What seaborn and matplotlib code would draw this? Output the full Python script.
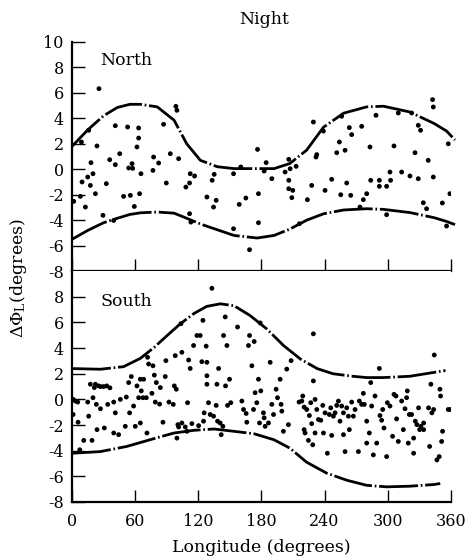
import numpy as np
import pandas as pd
import matplotlib.pyplot as plt
import seaborn as sns

# ---- data ----
# North hemisphere scatter (longitude, delta phi_L)
north_lon = [1.6, 7.9, 8.9, 9.5, 12.7, 14.9, 17.4, 18.0, 15.8, 19.9, 22.2, 23.7, 25.6, 29.4,
             32.6, 35.8, 39.6, 41.1, 41.1, 45.3, 49.0, 52.8, 53.8, 55.4, 57.0, 57.6, 59.2,
             61.7, 63.3, 63.3, 64.2, 65.5, 76.9, 77.5, 82.3, 87.0, 89.6, 93.4, 98.7, 99.7,
             101.3, 108.2, 111.7, 111.7, 112.3, 113.0, 116.5, 128.2, 133.2, 134.5, 135.1,
             137.0, 153.5, 153.5, 158.9, 160.4, 165.2, 168.7, 176.3, 177.2, 177.2, 182.6,
             184.5, 189.9, 202.5, 206.0, 206.0, 206.0, 207.3, 209.8, 208.9, 213.0, 216.1,
             223.7, 227.8, 229.4, 231.9, 232.6, 238.9, 240.5, 246.8, 251.6, 254.1, 256.3,
             259.5, 261.1, 263.6, 265.8, 255.4, 264.9, 275.3, 276.9, 280.1, 273.7, 283.2,
             283.9, 288.9, 292.1, 292.1, 299.0, 299.0, 302.2, 302.8, 306.0, 310.1, 313.3,
             321.2, 322.8, 326.0, 329.1, 329.1, 331.3, 333.9, 337.0, 338.6, 342.7, 343.4,
             343.4, 352.0, 356.0, 357.6, 359.2]
north_dphi = [-2.52, -2.13, 2.14, -1.0, -2.97, -0.61, -1.27, 0.52, 3.06, -0.35, -1.92, 1.83,
              6.33, -3.62, -1.13, 0.75, -4.02, 3.42, 0.36, 1.22, -2.13, 3.32, 0.1, -2.05, 0.44,
              0.07, -2.92, 1.75, 2.45, 3.24, -1.92, -0.35, -0.09, 0.96, 0.49, 3.53, -1.08,
              1.22, 4.94, 4.63, 0.83, -1.4, -1.08, -3.49, -0.35, -4.15, -0.53, -2.18, -0.87,
              -2.97, -0.4, -2.44, -4.67, -0.35, -2.76, 0.18, -2.26, -6.32, 1.56, -1.92, -4.2,
              -0.14, 0.52, -0.74, -0.22, 0.78, -0.87, -1.53, 0.04, -1.66, -2.23, 0.23, -4.28,
              -2.39, -1.27, 3.71, 0.96, 1.15, 3.0, -1.66, -0.79, 1.3, 2.14, 4.16, 1.49, -1.08,
              3.27, 2.72, -2.0, -2.05, 3.37, -2.39, -1.92, -2.97, 1.75, -0.87, 4.24, -0.87,
              -1.34, -1.34, -3.57, -0.22, -0.87, 1.83, 4.42, -0.22, -0.53, 4.42, 1.3, -0.74,
              3.45, 3.06, -2.63, -3.1, 0.7, 5.47, 4.89, -0.61, -2.65, -4.46, 2.0, -1.92]

# South hemisphere scatter
south_lon = [1.0, 3.2, 5.4, 1.0, 5.7, 7.3, 11.1, 14.9, 15.8, 17.4, 19.0, 19.9, 21.2, 23.1,
             23.7, 22.2, 25.3, 27.0, 30.0, 33.0, 36.0, 27.0, 30.7, 33.9, 39.6, 39.6, 41.1,
             44.3, 45.9, 50.6, 51.6, 53.8, 54.7, 56.3, 58.5, 60.1, 61.7, 63.3, 64.9, 64.9,
             65.8, 67.4, 68.0, 70.6, 71.2, 71.8, 72.8, 75.9, 76.9, 78.2, 79.1, 80.1, 83.2,
             83.9, 86.4, 88.6, 89.2, 92.1, 96.2, 97.2, 98.1, 99.1, 99.7, 100.6, 101.3, 103.5,
             104.4, 104.4, 107.6, 109.2, 109.8, 110.8, 112.3, 113.9, 115.5, 118.7, 120.3,
             121.8, 123.4, 124.4, 125.0, 125.6, 127.5, 128.2, 128.2, 128.2, 129.7, 132.9,
             131.3, 134.5, 137.0, 137.7, 138.3, 139.3, 140.8, 141.8, 143.4, 144.0, 145.6,
             145.9, 147.2, 147.8, 149.7, 150.9, 157.3, 161.4, 163.0, 165.5, 166.1, 167.7,
             168.7, 170.9, 172.5, 173.1, 174.0, 175.6, 177.2, 178.2, 178.8, 179.4, 181.9,
             182.6, 183.5, 186.7, 188.3, 189.9, 191.5, 194.0, 195.3, 197.8, 198.7, 199.4,
             200.9, 204.1, 205.7, 208.2, 215.8, 218.4, 219.3, 220.6, 220.6, 221.5, 223.1,
             224.7, 225.6, 226.9, 227.8, 228.8, 229.4, 229.4, 231.0, 231.0, 232.6, 234.2,
             236.4, 238.3, 239.0, 240.5, 242.7, 244.6, 245.9, 246.8, 248.4, 250.0, 251.6,
             253.2, 254.7, 256.3, 258.0, 258.0, 259.5, 261.1, 262.7, 263.6, 265.8, 267.4,
             269.0, 272.2, 273.1, 275.3, 276.9, 277.8, 280.1, 280.1, 282.6, 283.9, 284.8,
             286.4, 288.0, 289.6, 292.1, 292.7, 294.3, 295.3, 296.5, 299.0, 299.7, 302.2,
             304.7, 306.0, 307.9, 308.5, 310.1, 313.3, 314.9, 316.5, 318.0, 318.7, 319.6,
             320.6, 322.8, 324.7, 324.7, 326.3, 327.8, 329.4, 330.4, 331.6, 334.2, 334.2,
             338.9, 339.9, 341.1, 342.0, 343.7, 344.3, 346.8, 349.0, 349.7, 350.3, 351.3,
             352.2, 357.6, 359.8]
south_dphi = [0.0, -0.13, -0.21, -1.18, -1.78, -3.93, -3.2, -0.21, -1.31, 1.18, -3.2, 0.13,
              0.92, -0.39, -2.36, 1.18, 1.05, 1.0, 1.0, 1.05, 0.9, -0.73, -2.23, -0.39, -0.21,
              -2.62, -1.05, -2.75, 0.0, -2.1, 0.18, 1.31, -1.05, 1.78, -0.52, -2.1, 1.05,
              0.13, 1.57, -1.84, 0.66, 0.13, 1.57, 0.13, -2.62, 3.28, 2.76, 0.47, 2.62, 1.89,
              -0.21, 1.31, -0.37, 0.92, -1.78, 1.78, 3.02, -0.21, -0.39, 1.05, 3.41, 0.79,
              -3.02, -1.97, -2.15, 5.9, 3.67, -1.84, -2.15, -2.49, -0.26, 3.07, 2.41, -1.89,
              4.2, 4.98, -2.05, 4.98, 2.94, 6.16, -1.7, -1.05, 4.15, 2.89, 1.84, 1.18, -0.26,
              8.66, -1.18, -1.31, -0.47, 1.18, -1.7, 2.41, -1.84, -2.75, -2.1, 4.98, 6.43,
              1.05, 4.2, -0.47, 1.57, -0.26, 5.64, -0.13, -0.79, -1.1, -1.78, 4.2, 4.98, 2.62,
              -0.79, 4.51, 0.52, -0.26, 1.57, -1.84, 5.96, 0.66, -1.05, -1.44, -2.1, -1.84,
              2.89, -0.39, -1.18, 0.79, 0.13, 1.57, -0.39, -0.92, -2.49, 2.36, -1.97, 3.02,
              -0.21, -0.13, 0.26, -0.6, -2.36, -2.62, -0.79, -3.2, -1.26, -0.26, -1.89, -3.54,
              1.44, 5.11, 0.0, -2.62, -0.79, -1.57, -1.63, -0.47, -2.62, -1.05, -4.2, -1.18,
              -0.66, -2.81, -1.31, -1.05, -0.47, -0.13, -1.7, -0.52, -1.05, -2.75, -4.07,
              -0.66, -1.31, -2.36, -0.21, -1.31, -0.79, -4.07, -0.13, -0.39, 0.47, -0.39,
              -1.7, -3.41, -2.62, 1.31, -0.52, -4.33, 0.26, -3.41, 2.41, -1.26, -1.63, -0.79,
              -2.23, -4.46, -0.26, -0.52, -2.88, 0.39, 0.26, -1.52, -3.28, -0.13, -2.36, -0.73,
              0.13, 0.66, -3.41, -1.18, -1.18, -4.2, -3.02, -1.7, -1.97, -0.66, -2.36, -2.1,
              -2.36, -1.84, -0.66, -3.67, 1.18, -1.05, -0.79, 3.46, -4.72, -4.46, 0.79, 0.26,
              -3.28, -2.49, -0.79, -0.79]

# envelope curves
north_curve_lon = [0, 15, 30, 43, 55, 65, 81, 97, 109, 122, 138, 154, 176, 192, 207, 223,
                   239, 258, 280, 296, 321, 344, 356, 364]
north_upper = [1.8, 3.1, 4.2, 4.85, 5.1, 5.1, 4.9, 3.85, 2.0, 0.7, 0.2, 0.05, 0.05, 0.05,
               0.45, 1.5, 3.3, 4.4, 4.9, 4.95, 4.5, 3.6, 3.0, 2.3]
north_lower = [-5.5, -4.8, -4.2, -3.85, -3.55, -3.42, -3.36, -3.45, -3.85, -4.3, -4.75,
               -5.2, -5.4, -5.2, -4.7, -4.0, -3.5, -3.2, -3.1, -3.15, -3.4, -3.8, -4.1, -4.35]

south_curve_lon = [0, 27, 49, 65, 78, 90, 103, 116, 128, 141, 154, 169, 185, 201, 217, 233,
                   248, 267, 280, 296, 321, 340, 355]
south_upper = [2.4, 2.35, 2.55, 3.2, 4.05, 4.95, 5.9, 6.7, 7.25, 7.45, 7.3, 6.55, 5.5, 4.2,
               3.15, 2.4, 2.0, 1.8, 1.7, 1.7, 1.8, 2.05, 2.25]
south_curve_lon2 = [0, 27, 52, 74, 97, 116, 135, 154, 173, 192, 207, 223, 242, 261, 280, 299,
                    321, 344, 350]
south_lower = [-4.2, -4.07, -3.67, -3.15, -2.62, -2.41, -2.31, -2.49, -2.68, -3.15, -3.8,
               -4.9, -5.75, -6.3, -6.7, -6.82, -6.77, -6.64, -6.56]

panels = ['North', 'South']
xticks = [0, 60, 120, 180, 240, 300, 360]
yticks = [-8, -6, -4, -2, 0, 2, 4, 6, 8, 10]

north_df = pd.DataFrame({'lon': north_lon, 'dphi': north_dphi})
south_df = pd.DataFrame({'lon': south_lon, 'dphi': south_dphi})

sns.set_style('ticks')
plt.rcParams['font.family'] = ['DejaVu Serif']
plt.rcParams['mathtext.fontset'] = 'dejavuserif'
plt.rcParams['font.size'] = 12
plt.rcParams['text.color'] = 'black'
plt.rcParams['xtick.color'] = 'black'
plt.rcParams['ytick.color'] = 'black'
plt.rcParams['xtick.labelcolor'] = 'black'
plt.rcParams['ytick.labelcolor'] = 'black'

fig = plt.figure(figsize=(4.74, 5.59), dpi=100)
ax_n = fig.add_axes([0.152, 0.515, 0.799, 0.410])
ax_s = fig.add_axes([0.152, 0.102, 0.799, 0.413])

dash = (0, (14, 1.0, 0.6, 1.0))

for ax, df in [(ax_n, north_df), (ax_s, south_df)]:
    sns.scatterplot(data=df, x='lon', y='dphi', ax=ax, color='black', s=12,
                    edgecolor='none', legend=False)
    ax.set_xlim(0, 360)
    ax.set_ylim(-8, 10)
    ax.set_xticks(xticks)
    ax.set_yticks(yticks)
    ax.tick_params(direction='in', length=9, width=1.0, color='black',
                   labelcolor='black', labelsize=11.5, pad=6)
    ax.tick_params(axis='x', pad=8)
    for sp in ['top', 'right']:
        ax.spines[sp].set_visible(False)
    for sp in ['left', 'bottom']:
        ax.spines[sp].set_linewidth(1.6)
        ax.spines[sp].set_color('black')
    ax.set_xlabel('')
    ax.set_ylabel('')

ax_n.text(0.075, 0.957, panels[0], transform=ax_n.transAxes, fontsize=12.5, va='top',
          color='black')
ax_s.text(0.075, 0.905, panels[1], transform=ax_s.transAxes, fontsize=12.5, va='top',
          color='black')

# envelopes
for ax, lon, vals in [(ax_n, north_curve_lon, north_upper), (ax_n, north_curve_lon, north_lower),
                      (ax_s, south_curve_lon, south_upper), (ax_s, south_curve_lon2, south_lower)]:
    sns.lineplot(x=lon, y=vals, ax=ax, color='black', lw=2.0, sort=False,
                 errorbar=None, linestyle=dash, clip_on=False)

ax_n.set_yticklabels([str(t) for t in yticks])
ax_n.tick_params(axis='x', labelbottom=False)
ax_s.set_yticks(yticks[:-1])
ax_s.set_yticklabels([str(t) for t in yticks[:-1]])
ax_s.set_xticklabels([str(t) for t in xticks])

fig.text(0.557, 1 - 20 / 559, 'Night', ha='center', va='center', fontsize=12.5,
         color='black')
fig.text(0.04, 1 - 278 / 559, r'$\Delta\Phi_{\mathrm{L}}$(degrees)', rotation=90,
         ha='center', va='center', fontsize=12.5, color='black')
fig.text(0.551, 1 - 547 / 559, 'Longitude (degrees)', ha='center', va='center',
         fontsize=12.5, color='black')

fig.savefig('out.png', dpi=100)
